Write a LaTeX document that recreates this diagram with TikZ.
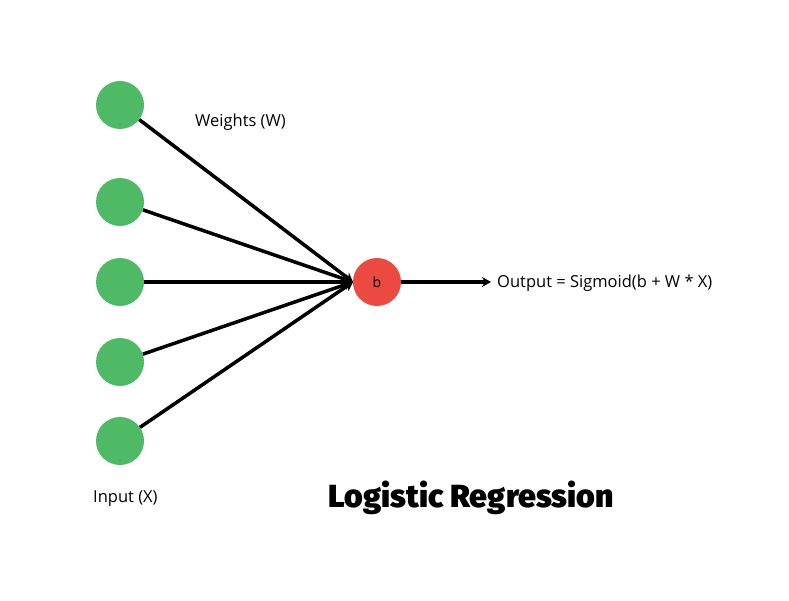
\documentclass[tikz,border=0pt]{standalone}
\usepackage{fontspec}
\setmainfont{Open Sans}
\newfontfamily\titlefont{Fira Sans Black}
\usetikzlibrary{arrows.meta}
\definecolor{ingreen}{HTML}{4FBA66}
\definecolor{outred}{HTML}{EA4A3F}
\begin{document}
\begin{tikzpicture}[x=1pt,y=-1pt,
  inp/.style={circle,fill=ingreen,minimum size=48pt,inner sep=0pt},
  bias/.style={circle,fill=outred,minimum size=48pt,inner sep=0pt,font=\fontsize{14}{16}\selectfont},
  wire/.style={line width=3.5pt,-{Stealth[length=9pt,width=10pt,inset=3pt]}},
  lbl/.style={font=\fontsize{16.5}{19}\selectfont,inner sep=0pt,anchor=west}]
\useasboundingbox (0,0) rectangle (789,601);
\node[inp] (x1) at (120,105) {};
\node[inp] (x2) at (120,202) {};
\node[inp] (x3) at (120,282) {};
\node[inp] (x4) at (120,362) {};
\node[inp] (x5) at (120,441) {};
\node[bias] (b) at (377,282) {b};
\coordinate (tip) at (353,282);
\coordinate (out) at (491,282);
\foreach \i in {1,...,5} \draw[wire] (x\i) -- (tip);
\draw[wire] (b) -- (out);
\node[lbl] (w) at (195,122) {Weights (W)};
\node[lbl] (o) at (497,283) {Output = Sigmoid(b + W * X)};
\node[lbl] (i) at (93,499) {Input (X)};
\node[inner sep=0pt,font=\titlefont\fontsize{32}{36}\selectfont] (t) at (471,498) {Logistic Regression};
\end{tikzpicture}
\end{document}
